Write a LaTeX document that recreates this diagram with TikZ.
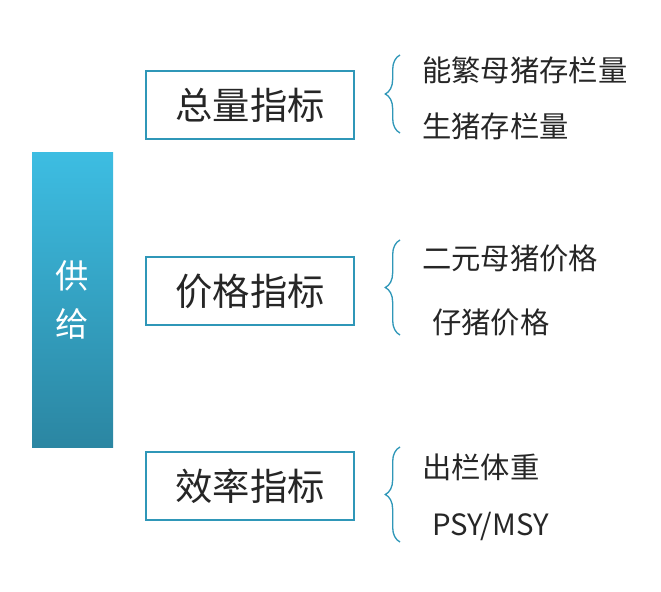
\documentclass[tikz,border=0pt]{standalone}
\usepackage{fontspec}
\setmainfont{Noto Sans CJK SC}
\usetikzlibrary{decorations.pathreplacing}
\definecolor{teal1}{HTML}{2F97B8}
\definecolor{barTop}{HTML}{3DBDE2}
\definecolor{barBot}{HTML}{2B86A2}
\definecolor{txt}{HTML}{262626}
\tikzset{
 catbox/.style={draw=teal1,line width=2.2pt,minimum width=156pt,minimum height=51pt,inner sep=0pt,font=\fontsize{28}{32}\selectfont,text=txt},
 brc/.style={draw=teal1,line width=1pt,decorate,decoration={brace,amplitude=11pt}},
 item/.style={anchor=west,font=\fontsize{22}{26}\selectfont,text=txt,inner sep=0pt}
}
\begin{document}
\begin{tikzpicture}[x=0.75pt,y=-0.75pt]
\useasboundingbox (0,0) rectangle (661,592);
\shade[top color=barTop,bottom color=barBot] (32,153) rectangle (113,447);
\node[text=white,font=\fontsize{25}{36}\selectfont,align=center] (bar) at (72,300) {供\\给};
\node[catbox] (b1) at (250,105) {总量指标};
\node[catbox] (b2) at (250,291) {价格指标};
\node[catbox] (b3) at (250,486) {效率指标};
\coordinate (t1) at (400,55); \coordinate (u1) at (400,133);
\coordinate (t2) at (400,240); \coordinate (u2) at (400,335);
\coordinate (t3) at (400,447); \coordinate (u3) at (400,542);
\draw[brc] (u1) -- (t1);
\draw[brc] (u2) -- (t2);
\draw[brc] (u3) -- (t3);
\node[item] (a1) at (422,70) {能繁母猪存栏量};
\node[item] (a2) at (422,126) {生猪存栏量};
\node[item] (c1) at (422,258) {二元母猪价格};
\node[item] (c2) at (432,322) {仔猪价格};
\node[item] (d1) at (422,467) {出栏体重};
\node[item] (d2) at (432,526) {PSY/MSY};
\end{tikzpicture}
\end{document}
